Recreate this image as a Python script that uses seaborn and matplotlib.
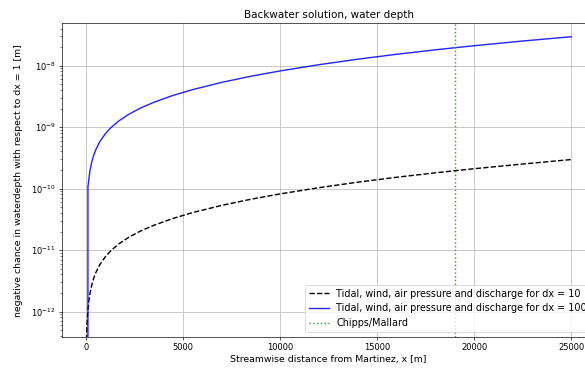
import numpy as np
import pandas as pd
import matplotlib
matplotlib.use("Agg")
import matplotlib.pyplot as plt
import seaborn as sns

# dx = 100 run (blue)
x_dx100 = [0, 100, 200, 300, 400, 500, 700, 1000, 1300, 1700, 2200, 2800,
           3500, 4500, 5500, 7000, 8500, 10000, 12000, 14000, 16000, 18000,
           19000, 20000, 22500, 25000]
dh_dx100 = [0.0, 1.066e-10, 1.926e-10, 2.729e-10, 3.497e-10, 4.245e-10,
            5.697e-10, 7.807e-10, 9.882e-10, 1.263e-9, 1.608e-9, 2.029e-9,
            2.530e-9, 3.278e-9, 4.065e-9, 5.330e-9, 6.698e-9, 8.175e-9,
            1.032e-8, 1.268e-8, 1.524e-8, 1.801e-8, 1.948e-8, 2.100e-8,
            2.504e-8, 2.941e-8]

# dx = 10 run (black dashed)
x_dx10 = [0, 10, 20, 40, 70, 100, 150, 200, 300, 400, 500, 700, 1000, 1300,
          1700, 2200, 2800, 3500, 4500, 5500, 7000, 8500, 10000, 12000, 14000,
          16000, 18000, 19000, 20000, 22500, 25000]
dh_dx10 = [0.0, 1.50e-13, 2.71e-13, 4.88e-13, 7.85e-13, 1.066e-12, 1.50e-12,
           1.926e-12, 2.729e-12, 3.497e-12, 4.245e-12, 5.697e-12, 7.807e-12,
           9.882e-12, 1.263e-11, 1.608e-11, 2.029e-11, 2.530e-11, 3.278e-11,
           4.065e-11, 5.330e-11, 6.698e-11, 8.175e-11, 1.032e-10, 1.268e-10,
           1.524e-10, 1.801e-10, 1.948e-10, 2.100e-10, 2.504e-10, 2.960e-10]

chipps_x = 19000

labels = ["Tidal, wind, air pressure and discharge for dx = 10",
          "Tidal, wind, air pressure and discharge for dx = 100",
          "Chipps/Mallard"]

df10 = pd.DataFrame({"x": x_dx10, "dh": dh_dx10})
df100 = pd.DataFrame({"x": x_dx100, "dh": dh_dx100})

fig = plt.figure(figsize=(585 / 60, 369 / 60), dpi=60)
ax = fig.add_axes([0.1055, 0.0867, 0.9126, 0.850])

sns.lineplot(data=df10, x="x", y="dh", ax=ax, color="k", linestyle="--",
             linewidth=1.7, label=labels[0], estimator=None, sort=False)
sns.lineplot(data=df100, x="x", y="dh", ax=ax, color="#0000ff", linestyle="-",
             linewidth=1.7, alpha=0.85, label=labels[1], estimator=None,
             sort=False)
ax.axvline(chipps_x, color="#2ca02c", linestyle=":", linewidth=1.7,
           label=labels[2])

ax.set_yscale("log")
ax.set_xlim(-1250, 26250)
ax.set_ylim(3.85e-13, 4.85e-8)
ax.set_xticks([0, 5000, 10000, 15000, 20000, 25000])
ax.grid(True)
ax.set_title("Backwater solution, water depth", fontsize=12.5)
ax.set_xlabel("Streamwise distance from Martinez, x [m]", fontsize=11.2)
ax.set_ylabel("negative chance in waterdepth with respect to dx = 1 [m]",
              fontsize=11.2, labelpad=10)
ax.legend(loc="lower right", fontsize=11.6)

fig.savefig("out.png", dpi=60)
